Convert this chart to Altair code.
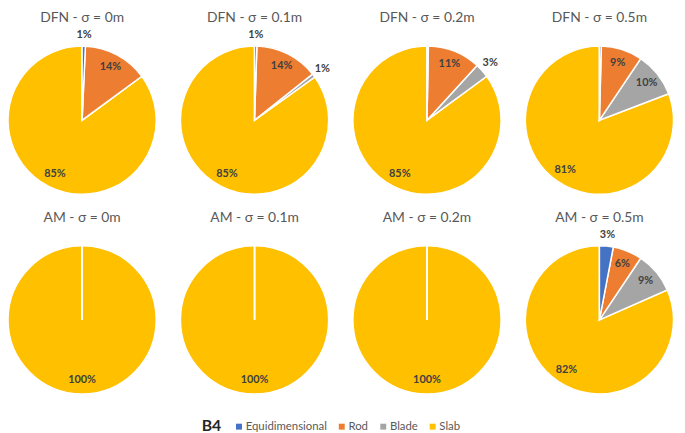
import altair as alt
import pandas as pd

panels = ["DFN - σ = 0m", "DFN - σ = 0.1m", "DFN - σ = 0.2m", "DFN - σ = 0.5m",
          "AM - σ = 0m", "AM - σ = 0.1m", "AM - σ = 0.2m", "AM - σ = 0.5m"]
panel_col = [0, 1, 2, 3, 0, 1, 2, 3]
panel_row = [0, 0, 0, 0, 1, 1, 1, 1]

categories = ["Equidimensional", "Rod", "Blade", "Slab"]
colors = ["#4472C4", "#ED7D31", "#A5A5A5", "#FFC000"]

equi = [0.7, 0.5, 0.3, 0.4, 0, 0, 0, 3.0]
rod = [14.2, 13.8, 11.5, 9.0, 0, 0, 0, 6.4]
blade = [0, 0.8, 3.1, 9.8, 0, 0, 0, 9.0]
slab = [85.1, 84.9, 85.1, 80.8, 100, 100, 100, 81.6]

equi_label = ["1%", "1%", "", "", "", "", "", "3%"]
rod_label = ["14%", "14%", "11%", "9%", "", "", "", "6%"]
blade_label = ["", "1%", "3%", "10%", "", "", "", "9%"]
slab_label = ["85%", "85%", "85%", "81%", "100%", "100%", "100%", "82%"]

equi_out = [1, 1, 1, 1, 1, 1, 1, 1]
rod_out = [0, 0, 0, 0, 0, 0, 0, 0]
blade_out = [0, 1, 1, 0, 0, 0, 0, 0]
slab_out = [0, 0, 0, 0, 0, 0, 0, 0]

values = [equi, rod, blade, slab]
labels = [equi_label, rod_label, blade_label, slab_label]
outs = [equi_out, rod_out, blade_out, slab_out]

rows = []
for i, p in enumerate(panels):
    for k, c in enumerate(categories):
        rows.append({"panel": p, "col": panel_col[i], "row": panel_row[i], "cat": c,
                     "order": k, "value": values[k][i], "label": labels[k][i],
                     "outside": outs[k][i]})
df = pd.DataFrame(rows)
titles_df = pd.DataFrame({"panel": panels, "col": panel_col, "row": panel_row})

FONT = "Lato"
xenc = alt.X("col:Q", scale=alt.Scale(domain=[0, 3], range=[75, 598.5]), axis=None)
yenc = alt.Y("row:Q", scale=alt.Scale(domain=[0, 1], range=[111, 313]), axis=None)
tscale = alt.Scale(domain=[0, 1], range=[0, 6.283185307179586])

base = alt.Chart(df).transform_joinaggregate(
    total="sum(value)", groupby=["panel"]
).transform_window(
    cum="sum(value)", groupby=["panel"], sort=[alt.SortField("order")], frame=[None, 0]
).transform_calculate(
    start="(datum.cum - datum.value) / datum.total",
    end="datum.cum / datum.total",
    mid="(datum.cum - datum.value / 2) / datum.total",
    lr="datum.outside ? 86 : 61",
)

arcs = base.mark_arc(outerRadius=75, stroke="white", strokeWidth=1.5).encode(
    x=xenc, y=yenc,
    theta=alt.Theta("start:Q", stack=None, scale=tscale),
    theta2="end:Q",
    order=alt.Order("order:Q", sort="descending"),
    color=alt.Color("cat:N", scale=alt.Scale(domain=categories, range=colors),
                    legend=alt.Legend(title="B4", orient="none", legendX=196, legendY=415,
                                      direction="horizontal", titleOrient="left",
                                      titleFont=FONT, titleFontSize=16, titleFontWeight="bold",
                                      titleColor="#262626", titlePadding=12,
                                      labelFont=FONT, labelFontSize=11.5, labelColor="#595959",
                                      symbolType="square", symbolSize=36, symbolStrokeWidth=0,
                                      labelOffset=1, columnPadding=9)),
)

texts = base.transform_filter("datum.label != ''").mark_text(
    font=FONT, fontSize=11, fontWeight="bold", color="#404040"
).encode(
    x=xenc, y=yenc,
    theta=alt.Theta("mid:Q", stack=None, scale=tscale),
    radius=alt.Radius("lr:Q", scale=None),
    text="label:N",
)

titles = alt.Chart(titles_df).mark_text(
    font=FONT, fontSize=14, color="#595959", dy=-103
).encode(x=xenc, y=yenc, text="panel:N")

chart = alt.layer(arcs, texts, titles).properties(
    width=677, height=425, padding=0, autosize=alt.AutoSizeParams(type="none")
).configure_view(stroke=None)

chart.save("out.html", embed_options={"renderer": "svg", "actions": False})
